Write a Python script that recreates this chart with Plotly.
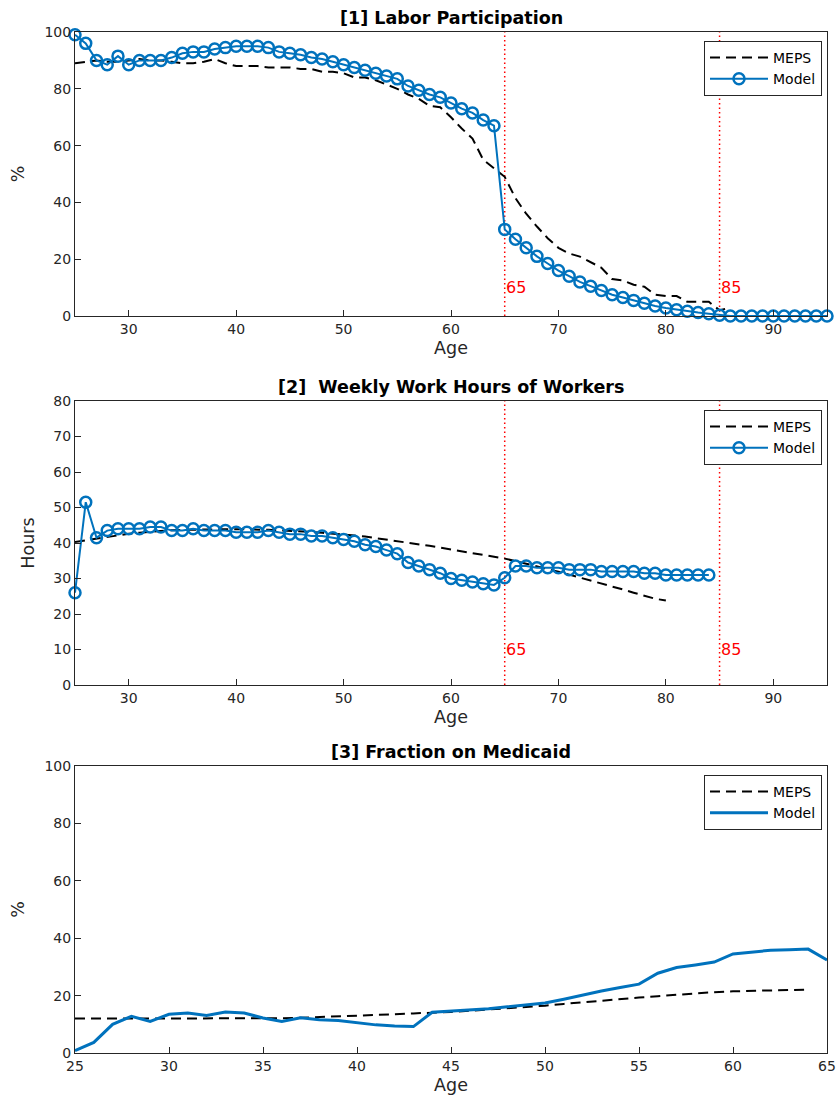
import plotly.graph_objects as go

# ---------------- data ----------------
age1 = list(range(25, 96))
model_lfp = [99, 96, 90, 88.5, 91.5, 88.5, 90, 90, 90, 91, 92.5, 93, 93, 94, 94.5, 95, 95, 95, 94.5, 93,
             92.5, 92, 91, 90.5, 89.5, 88.5, 87.5, 86.5, 85.5, 84.5, 83.5, 81, 79.5, 78, 77, 75, 73, 71.5, 69, 67,
             30.5, 27, 24, 21, 18.5, 16, 14, 12, 10.5, 9, 7.5, 6.5, 5.5, 4.5, 3.5, 2.8, 2.2, 1.7, 1.2, 0.8,
             0.3, 0, 0, 0, 0, 0, 0, 0, 0, 0, 0]
age_meps1 = list(range(25, 87))
meps_lfp = [89, 89.5, 90, 89.5, 89.5, 90, 90.5, 90, 90, 89.5, 89, 89, 89.5, 90.5, 89, 88, 88, 88, 87.5, 87.5,
            87.5, 87, 87, 86, 86, 85.5, 84, 84, 83, 81.5, 80, 78, 76.5, 74, 73.5, 70, 66, 62.5, 55, 52,
            49, 41.5, 36, 31.5, 27.4, 24, 22, 20.9, 19, 17, 13, 12.5, 11, 10.3, 7.5, 7, 7, 5, 5, 5,
            2, 3]

age2 = list(range(25, 85))
model_hours = [26, 51.5, 41.5, 43.5, 44, 44, 44, 44.5, 44.5, 43.5, 43.5, 44, 43.5, 43.5, 43.5, 43, 43, 43, 43.5, 43,
               42.5, 42.5, 42, 42, 41.5, 41, 40.5, 39.5, 39, 38, 37, 34.5, 33.5, 32.5, 31.5, 30, 29.5, 29, 28.5, 28.2,
               30.2, 33.5, 33.5, 33, 33, 33, 32.5, 32.5, 32.5, 32, 32, 32, 32, 31.5, 31.5, 31, 31, 31, 31, 31]
age_meps2 = list(range(25, 81))
meps_hours = [40.3, 40.8, 41.3, 41.8, 42.2, 42.6, 42.9, 43.2, 43.4, 43.6, 43.7, 43.8, 43.9, 43.9, 43.9, 43.9,
              43.9, 43.8, 43.7, 43.6, 43.5, 43.3, 43.1, 42.9, 42.7, 42.4, 42.1, 41.8, 41.4, 41.0, 40.6, 40.2,
              39.7, 39.2, 38.7, 38.2, 37.7, 37.2, 36.7, 36.2, 35.6, 34.9, 34.2, 33.5, 32.7, 31.9, 31.1, 30.3,
              29.5, 28.6, 27.8, 26.9, 26.0, 25.2, 24.3, 23.8]

age3 = list(range(25, 66))
model_medicaid = [0.8, 3.7, 10, 12.8, 11.0, 13.5, 13.9, 13.1, 14.3, 13.9, 12.2, 11.0, 12.3, 11.6, 11.3, 10.6,
                  9.8, 9.4, 9.2, 14.2, 14.6, 15.0, 15.4, 16.1, 16.7, 17.4, 18.7, 20.2, 21.6, 22.8, 24.0,
                  27.8, 29.8, 30.7, 31.7, 34.5, 35.1, 35.8, 36.0, 36.2, 32.4]
age_meps3 = list(range(25, 65))
meps_medicaid = [12, 12, 12, 12, 12, 12, 12, 12, 12, 12, 12, 12.1, 12.3, 12.5, 12.7, 12.9, 13.2, 13.5, 13.8,
                 14.0, 14.3, 14.7, 15.1, 15.5, 16.0, 16.5, 17.1, 17.7, 18.3, 18.8, 19.3, 19.8, 20.3, 20.8,
                 21.2, 21.5, 21.7, 21.8, 22.0, 22.1]

markers_x = [65, 85]
titles = ["[1] Labor Participation", "[2]  Weekly Work Hours of Workers", "[3] Fraction on Medicaid"]

# ---------------- figure ----------------
W, H = 838, 1102
ML, MT = 75, 32
MR = W - 827
MB = H - 1053
PH = H - MT - MB
PW = W - ML - MR
BLUE = "#0072BD"
AX = "#262626"
FONT = "DejaVu Sans"

def py(pix):
    return 1 - (pix - MT) / PH

panels = [(32, 316), (401, 685), (766, 1053)]

fig = go.Figure()

series = [
    (age_meps1, meps_lfp, age1, model_lfp, True),
    (age_meps2, meps_hours, age2, model_hours, True),
    (age_meps3, meps_medicaid, age3, model_medicaid, False),
]
for i, (xm, ym, xo, yo, mk) in enumerate(series):
    ax = "" if i == 0 else str(i + 1)
    leg = "legend" if i == 0 else f"legend{i + 1}"
    fig.add_trace(go.Scatter(x=xm, y=ym, mode="lines", name="MEPS",
                             line=dict(color="black", width=2, dash="10px,6px"),
                             xaxis="x" + ax, yaxis="y" + ax, legend=leg, cliponaxis=False))
    fig.add_trace(go.Scatter(x=xo, y=yo, mode="lines+markers" if mk else "lines", name="Model",
                             line=dict(color=BLUE, width=2 if mk else 3),
                             marker=dict(symbol="circle-open", size=11, color=BLUE, line=dict(width=2.5)),
                             xaxis="x" + ax, yaxis="y" + ax, legend=leg, cliponaxis=False))

axis_common = dict(showline=True, mirror=True, linecolor=AX, linewidth=1, ticks="inside", ticklen=6,
                   tickcolor=AX, showgrid=False, zeroline=False, automargin=False,
                   tickfont=dict(family=FONT, size=14, color=AX))
title_font = dict(family=FONT, size=17.5, color=AX)

layout = dict(width=W, height=H, margin=dict(l=ML, r=MR, t=MT, b=MB, autoexpand=False),
              plot_bgcolor="white", paper_bgcolor="white", showlegend=True,
              font=dict(family=FONT, color=AX))

xcfg = [dict(range=[25, 95], tickvals=[30, 40, 50, 60, 70, 80, 90]),
        dict(range=[25, 95], tickvals=[30, 40, 50, 60, 70, 80, 90]),
        dict(range=[25, 65], tickvals=[25, 30, 35, 40, 45, 50, 55, 60, 65])]
ycfg = [dict(range=[0, 100], tickvals=[0, 20, 40, 60, 80, 100], ttl="%", sd=15),
        dict(range=[0, 80], tickvals=[0, 10, 20, 30, 40, 50, 60, 70, 80], ttl="Hours", sd=14),
        dict(range=[0, 100], tickvals=[0, 20, 40, 60, 80, 100], ttl="%", sd=15)]

annotations = []
shapes = []
for i, (top, bot) in enumerate(panels):
    k = "" if i == 0 else str(i + 1)
    layout["xaxis" + k] = dict(axis_common, domain=[0, 1], anchor="y" + k,
                               range=xcfg[i]["range"], tickvals=xcfg[i]["tickvals"],
                               title=dict(text="Age", font=title_font, standoff=5))
    layout["yaxis" + k] = dict(axis_common, domain=[py(bot), py(top)], anchor="x" + k,
                               range=ycfg[i]["range"], tickvals=ycfg[i]["tickvals"],
                               title=dict(text=ycfg[i]["ttl"], font=title_font, standoff=ycfg[i]["sd"]))
    leg = "legend" if i == 0 else f"legend{i + 1}"
    layout[leg] = dict(x=1 - 5 / PW, y=py(top + 9), xanchor="right", yanchor="top",
                       bgcolor="white", bordercolor=AX, borderwidth=1,
                       font=dict(family=FONT, size=14, color="black"),
                       tracegroupgap=0, itemwidth=58)
    annotations.append(dict(text=f"<b>{titles[i]}</b>", x=0.5, y=py(top - 2),
                            xref="paper", yref="paper", xanchor="center", yanchor="bottom",
                            showarrow=False, font=dict(family=FONT, size=17.5, color="black")))
    if i < 2:
        for mx in markers_x:
            shapes.append(dict(type="line", x0=mx, x1=mx, y0=0, y1=1, xref="x" + k,
                               yref=f"y{k} domain", line=dict(color="red", width=1.5, dash="1.5px,3px"),
                               layer="below"))
            annotations.append(dict(text=str(mx), x=mx, y=10, xref="x" + k, yref="y" + k,
                                    xanchor="left", yanchor="middle", showarrow=False, xshift=-1,
                                    font=dict(family=FONT, size=16, color="red")))

layout["annotations"] = annotations
layout["shapes"] = shapes
fig.update_layout(**layout)
fig.write_html("out.html", config={"displayModeBar": False},
               post_script="document.body.style.margin='0';document.body.style.overflow='hidden';")
